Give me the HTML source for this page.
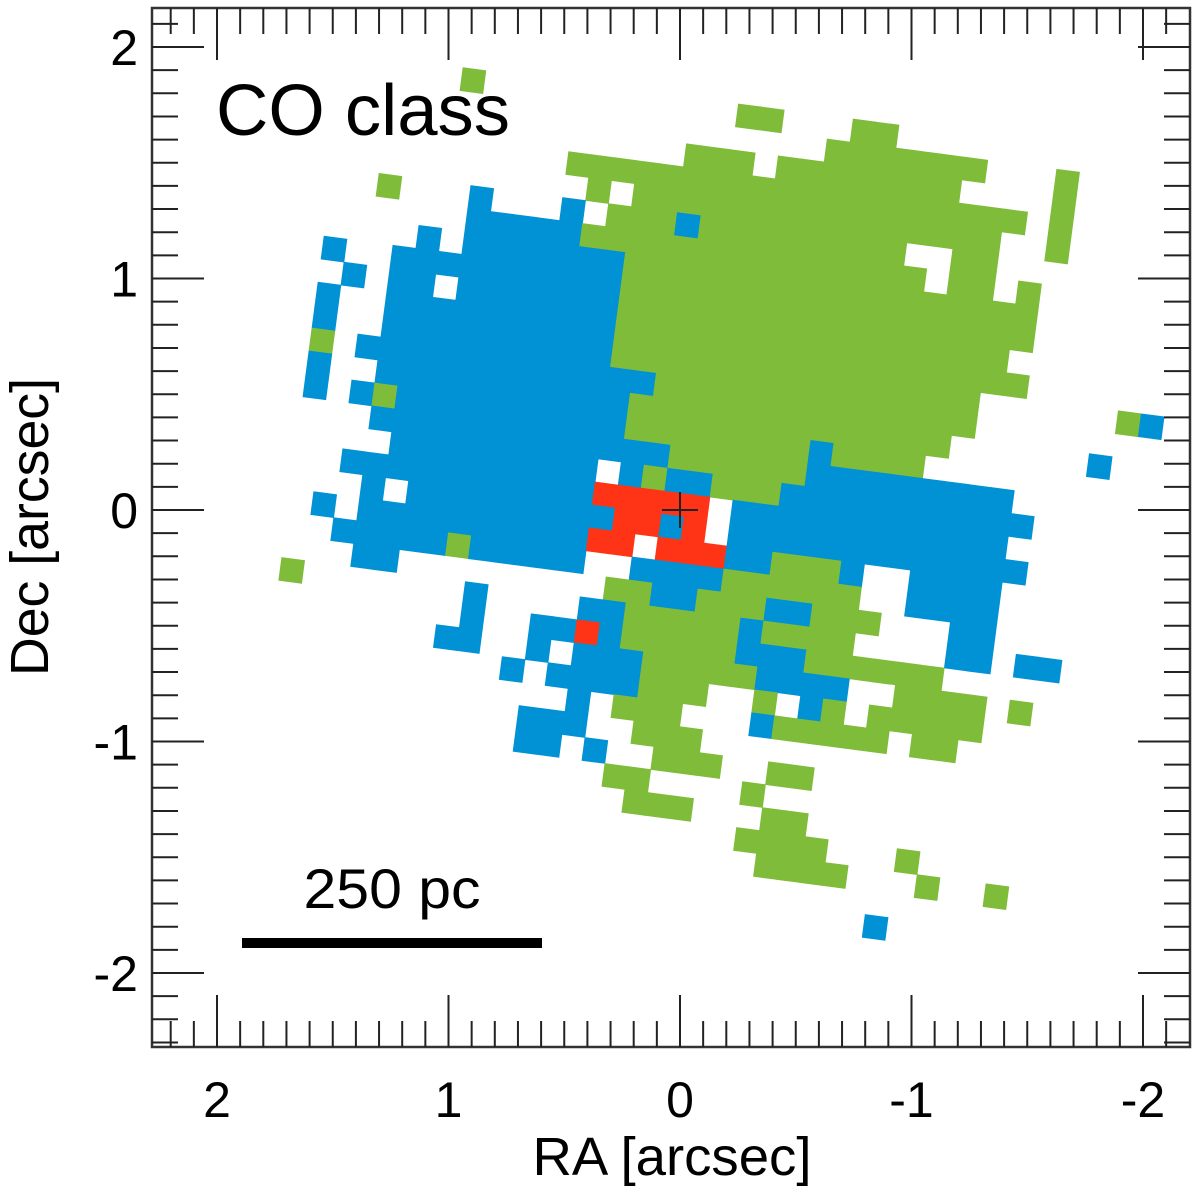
<!DOCTYPE html>
<html><head><meta charset="utf-8">
<style>
html,body{margin:0;padding:0;background:#fff;}
svg{display:block;font-family:"Liberation Sans",Arial,sans-serif;}
</style></head>
<body>
<svg id="chart" width="1200" height="1193" viewBox="0 0 1200 1193" xmlns="http://www.w3.org/2000/svg">
  <rect x="0" y="0" width="1200" height="1193" fill="#fff"/>
  <g id="cells"></g>
  <g id="axes"></g>
  <text x="216" y="135" font-size="72" textLength="294" lengthAdjust="spacingAndGlyphs">CO class</text>
  <text x="392" y="908" font-size="56" text-anchor="middle" textLength="177" lengthAdjust="spacingAndGlyphs">250 pc</text>
  <rect x="242" y="938" width="300" height="10" fill="#000"/>
  <text x="672" y="1175" font-size="54" text-anchor="middle" textLength="279" lengthAdjust="spacingAndGlyphs">RA [arcsec]</text>
  <text x="0" y="0" font-size="54" text-anchor="middle" textLength="298" lengthAdjust="spacingAndGlyphs" transform="translate(48,527) rotate(-90)">Dec [arcsec]</text>
</svg>
<script>
// ---- data ----
const rowJ = [-18,-17,-16,-15,-14,-13,-12,-11,-10,-9,-8,-7,-6,-5,-4,-3,-2,-1,0,1,2,3,4,5,6,7,8,9,10,11,12,13,14,15,16];
const rowRuns = [
"-11:-11:g,1:2:g,6:7:g",
"5:11:g,15:15:g",
"-1:1:g,3:10:g,15:15:g",
"-6:13:g,15:15:g",
"-5:-5:g,-3:12:g,15:15:g",
"-14:-14:g,-10:-10:b,-6:-6:b,-4:12:g,-1:-1:b,9:10:w",
"-10:-6:b,-5:12:g,10:10:w,14:14:g",
"-12:-12:b,-10:-4:b,-3:14:g",
"-16:-16:b,-13:-4:b,-3:14:g",
"-15:-15:b,-13:-4:b,-11:-11:w,-3:13:g",
"-16:-16:b,-13:-4:b,-3:14:g",
"-16:-16:b,-13:-4:b,-3:12:g,19:19:g,20:20:b",
"-16:-16:g,-14:-2:b,-1:12:g",
"-16:-16:b,-13:-3:b,-2:11:g,18:18:b",
"-16:-16:b,-14:-14:b,-13:-13:g,-12:-3:b,-2:10:g,6:6:b",
"-13:-1:b,0:5:g,6:14:b",
"-12:-4:b,-2:-2:b,-1:-1:g,0:1:b,2:4:g,5:15:b",
"-14:-4:b,-3:1:r,3:14:b",
"-13:-13:b,-11:-3:b,-2:-1:r,0:0:b,1:1:r,3:15:b",
"-15:-15:b,-13:-4:b,-3:-2:r,0:2:r,3:4:b,5:7:g,8:8:b,11:14:b",
"-14:-10:b,-9:-9:g,-8:-4:b,-1:2:b,3:8:g,11:14:b",
"-13:-12:b,-2:-1:g,0:1:b,2:4:g,5:6:b,7:9:g,13:14:b",
"-16:-16:g,-8:-8:b,-3:-2:b,-1:3:g,4:4:b,5:8:g,13:14:b,16:17:b",
"-8:-8:b,-5:-4:b,-3:-3:r,-2:-2:b,-1:3:g,4:6:b,7:12:g",
"-9:-8:b,-5:-5:b,-3:-1:b,0:4:g,5:8:b,11:14:g,16:16:g",
"-6:-6:b,-4:-1:b,0:2:g,5:5:g,7:7:b,8:8:g,10:14:g",
"-3:-3:b,-1:1:g,5:5:b,6:10:g,12:13:g",
"-5:-3:b,0:2:g",
"-5:-4:b,-2:-2:b,1:3:g,6:7:g",
"-1:0:g,5:5:g",
"0:2:g,6:7:g",
"5:8:g,12:12:g",
"6:9:g,13:13:g,16:16:g",
"",
"11:11:b"
];
const classColors = {b:"#0191d5", g:"#7fbc39", r:"#ff3416"};
const classNames = {b:"blue-class-cell", g:"green-class-cell", r:"red-class-cell"};
const xTicks = [2,1,0,-1,-2];
const yTicks = [2,1,0,-1,-2];
const xTickLabels = ["2","1","0","-1","-2"];
const yTickLabels = ["2","1","0","-1","-2"];

// ---- axis functions ----
const PX = 231.5;
const xS = ra => 680 - PX*ra;
const yS = dec => 510 - PX*dec;
const CELL = 23.15, ROT = 7.5, GX = 671, GY = 527;
const NS = "http://www.w3.org/2000/svg";
const box = {l:152, r:1190, t:8, b:1047};

// ---- map cells ----
const cellsG = document.getElementById('cells');
cellsG.setAttribute('transform', `translate(${GX},${GY}) rotate(${ROT})`);
rowJ.forEach((j, k) => {
  const grid = {};
  if (!rowRuns[k]) return;
  rowRuns[k].split(',').forEach(run => {
    const p = run.split(':');
    for (let i = +p[0]; i <= +p[1]; i++) grid[i] = p[2];
  });
  Object.keys(grid).forEach(key => {
    const c = grid[key];
    if (c === 'w') return;
    const i = +key;
    const r = document.createElementNS(NS, 'rect');
    r.setAttribute('x', (i*CELL - CELL/2 - 0.3).toFixed(2));
    r.setAttribute('y', (j*CELL - CELL/2 - 0.3).toFixed(2));
    r.setAttribute('width', (CELL+0.6).toFixed(2));
    r.setAttribute('height', (CELL+0.6).toFixed(2));
    r.setAttribute('fill', classColors[c]);
    
    
    cellsG.appendChild(r);
  });
});

// ---- axes ----
const axesG = document.getElementById('axes');
function line(x1,y1,x2,y2,w,name){
  const l = document.createElementNS(NS,'line');
  l.setAttribute('x1',x1); l.setAttribute('y1',y1);
  l.setAttribute('x2',x2); l.setAttribute('y2',y2);
  l.setAttribute('stroke','#222'); l.setAttribute('stroke-width',w);
  
  
  axesG.appendChild(l);
}
line(xS(0)-18, yS(0), xS(0)+18, yS(0), 2, 'center-cross-h');
line(xS(0), yS(0)-18, xS(0), yS(0)+18, 2, 'center-cross-v');
const fr = document.createElementNS(NS,'rect');
fr.setAttribute('x',box.l); fr.setAttribute('y',box.t);
fr.setAttribute('width',box.r-box.l); fr.setAttribute('height',box.b-box.t);
fr.setAttribute('fill','none'); fr.setAttribute('stroke','#333'); fr.setAttribute('stroke-width',2.5);


axesG.appendChild(fr);
for (let n = -25; n <= 25; n++) {
  const v = n/10;
  const major = (n % 10 === 0);
  const len = major ? 52 : 26;
  const x = xS(v);
  if (x > box.l+2 && x < box.r-2) {
    line(x, box.b, x, box.b-len, 2, major ? 'x-major-tick' : 'x-minor-tick');
    line(x, box.t, x, box.t+len, 2, major ? 'x-major-tick-top' : 'x-minor-tick-top');
  }
  const y = yS(v);
  if (y > box.t+2 && y < box.b-2) {
    line(box.l, y, box.l+len, y, 2, major ? 'y-major-tick' : 'y-minor-tick');
    line(box.r, y, box.r-len, y, 2, major ? 'y-major-tick-right' : 'y-minor-tick-right');
  }
}
xTicks.forEach((v, k) => {
  const t = document.createElementNS(NS,'text');
  t.setAttribute('x', xS(v)); t.setAttribute('y', 1117);
  t.setAttribute('font-size', 50); t.setAttribute('text-anchor','middle');
  t.textContent = xTickLabels[k];
  
  
  axesG.appendChild(t);
});
yTicks.forEach((v, k) => {
  const t = document.createElementNS(NS,'text');
  t.setAttribute('x', 138); t.setAttribute('y', yS(v)+18);
  t.setAttribute('font-size', 50); t.setAttribute('text-anchor','end');
  t.textContent = yTickLabels[k];
  
  
  axesG.appendChild(t);
});
</script>
</body></html>
